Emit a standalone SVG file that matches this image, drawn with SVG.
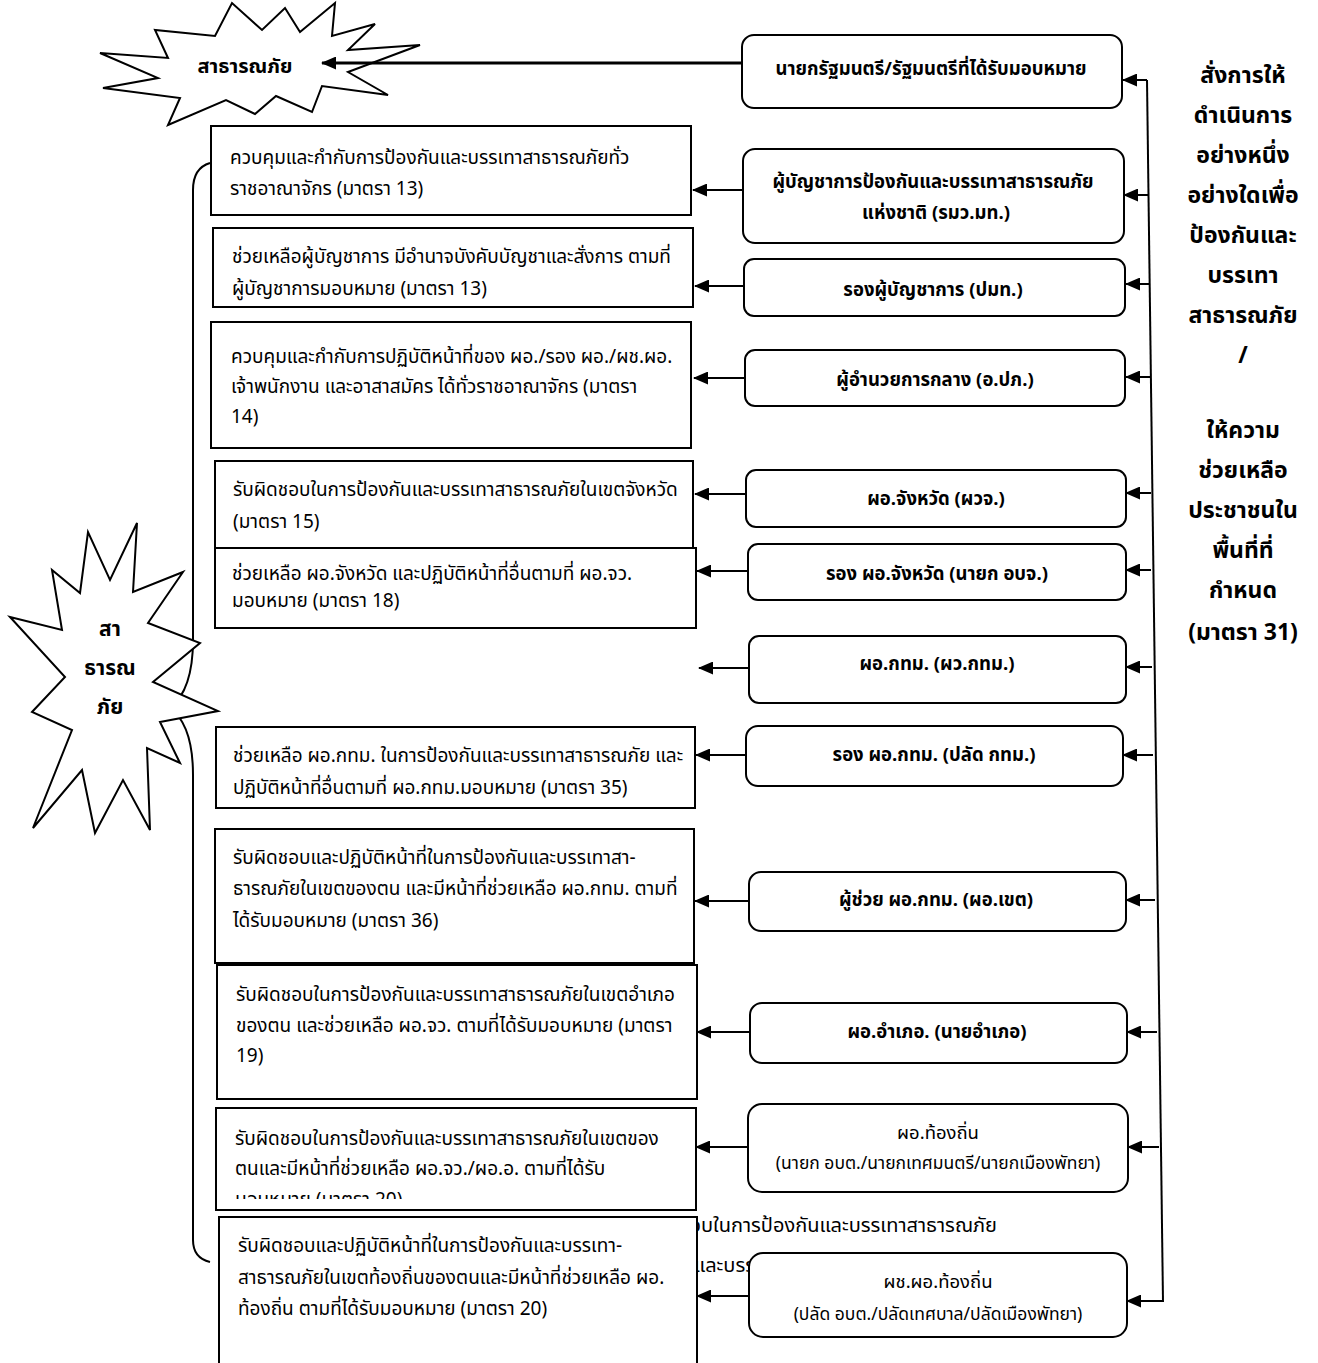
<svg xmlns="http://www.w3.org/2000/svg" width="1318" height="1363" viewBox="0 0 1318 1363">
<style>
  text { font-family: "Noto Sans Thai", "Tahoma", "Noto Sans", "DejaVu Sans", sans-serif; fill: #000; }
  .lt { font-size: 19px; }
  .rt { font-size: 18.5px; font-weight: bold; text-anchor: middle; }
  .rs { font-size: 17.5px; text-anchor: middle; }
  .col { font-size: 23px; font-weight: bold; text-anchor: middle; }
  .star { font-size: 20px; font-weight: bold; text-anchor: middle; }
  .lbox { fill: #fff; stroke: #000; stroke-width: 2; }
  .rbox { fill: #fff; stroke: #000; stroke-width: 2; }
  .star-shape { fill: #fff; stroke: #000; stroke-width: 2; stroke-linejoin: miter; }
  .conn { stroke: #000; stroke-width: 2; fill: none; }
</style>
<defs>
  <marker id="arr" markerUnits="userSpaceOnUse" markerWidth="15" markerHeight="13" refX="14" refY="6.5" orient="auto">
    <path d="M0,0 L15,6.5 L0,13 Z" fill="#000"/>
  </marker>
  <clipPath id="clipI"><rect x="200" y="1100" width="500" height="99"/></clipPath>
</defs>
<rect width="1318" height="1363" fill="#fff"/>

<!-- hidden overflow text (behind boxes) -->
<g id="overflow-text">
  <text x="997" y="1232" style="font-size:20px" text-anchor="end">รับผิดชอบในการป้องกันและบรรเทาสาธารณภัย</text>
  <text x="694" y="1272" style="font-size:20px">และบรรเทาสาธารณภัย</text>
</g>

<g id="brace">
  <path class="conn" d="M210,163 Q193,168 193,190 L193,640 Q193,690 170,708 Q193,725 193,775 L193,1240 Q193,1258 210,1262"/>
</g>

<g id="starburst-top">
  <polygon class="star-shape" points="100,53 168,58 155,30 215,36 232,3 262,30 285,8 300,32 335,3 332,36 375,24 348,50 420,45 348,72 388,95 322,86 312,112 276,96 255,114 226,100 168,125 180,98 103,88 158,78"/>
  <text class="star" x="245" y="73">สาธารณภัย</text>
</g>

<g id="starburst-left">
  <polygon class="star-shape" points="10,617 62,630 52,570 80,593 88,532 110,580 137,523 133,592 183,572 148,623 200,643 153,682 218,711 160,722 180,763 147,748 150,830 123,780 95,833 82,770 33,828 72,730 32,712 65,677"/>
  <text class="star" x="110" y="636" style="font-size:21px">สา</text>
  <text class="star" x="110" y="675" style="font-size:21px">ธารณ</text>
  <text class="star" x="110" y="714" style="font-size:21px">ภัย</text>
</g>

<g id="connectors">
  <line class="conn" x1="742" y1="63" x2="322" y2="63" style="stroke-width:3" marker-end="url(#arr)"/>
  <line class="conn" x1="1147" y1="80" x2="1163" y2="1302"/>
  <line class="conn" x1="1147" y1="80" x2="1123" y2="80" marker-end="url(#arr)"/>
  <line class="conn" x1="1148" y1="195" x2="1124" y2="195" marker-end="url(#arr)"/>
  <line class="conn" x1="1149" y1="284" x2="1126" y2="284" marker-end="url(#arr)"/>
  <line class="conn" x1="1150" y1="377" x2="1126" y2="377" marker-end="url(#arr)"/>
  <line class="conn" x1="1151" y1="493" x2="1126" y2="493" marker-end="url(#arr)"/>
  <line class="conn" x1="1151" y1="570" x2="1126" y2="570" marker-end="url(#arr)"/>
  <line class="conn" x1="1152" y1="667" x2="1126" y2="667" marker-end="url(#arr)"/>
  <line class="conn" x1="1153" y1="755" x2="1123" y2="755" marker-end="url(#arr)"/>
  <line class="conn" x1="1155" y1="900" x2="1126" y2="900" marker-end="url(#arr)"/>
  <line class="conn" x1="1157" y1="1032" x2="1127" y2="1032" marker-end="url(#arr)"/>
  <line class="conn" x1="1159" y1="1147" x2="1128" y2="1147" marker-end="url(#arr)"/>
  <line class="conn" x1="1163" y1="1301" x2="1127" y2="1301" marker-end="url(#arr)"/>

  <line class="conn" x1="745" y1="190" x2="693" y2="190" marker-end="url(#arr)"/>
  <line class="conn" x1="745" y1="286" x2="695" y2="286" marker-end="url(#arr)"/>
  <line class="conn" x1="746" y1="378" x2="694" y2="378" marker-end="url(#arr)"/>
  <line class="conn" x1="747" y1="494" x2="695" y2="494" marker-end="url(#arr)"/>
  <line class="conn" x1="748" y1="571" x2="697" y2="571" marker-end="url(#arr)"/>
  <line class="conn" x1="749" y1="668" x2="699" y2="668" marker-end="url(#arr)"/>
  <line class="conn" x1="746" y1="755" x2="696" y2="755" marker-end="url(#arr)"/>
  <line class="conn" x1="749" y1="901" x2="695" y2="901" marker-end="url(#arr)"/>
  <line class="conn" x1="750" y1="1032" x2="697" y2="1032" marker-end="url(#arr)"/>
  <line class="conn" x1="748" y1="1147" x2="696" y2="1147" marker-end="url(#arr)"/>
  <line class="conn" x1="750" y1="1296" x2="697" y2="1296" marker-end="url(#arr)"/>
</g>

<g id="lbox-A">
  <rect class="lbox" x="211" y="126" width="480" height="89"/>
  <text class="lt" x="230" y="164">ควบคุมและกำกับการป้องกันและบรรเทาสาธารณภัยทั่ว</text>
  <text class="lt" x="230" y="195">ราชอาณาจักร (มาตรา 13)</text>
</g>
<g id="lbox-B">
  <rect class="lbox" x="213" y="228" width="480" height="79"/>
  <text class="lt" x="232" y="263">ช่วยเหลือผู้บัญชาการ มีอำนาจบังคับบัญชาและสั่งการ ตามที่</text>
  <text class="lt" x="232" y="295">ผู้บัญชาการมอบหมาย (มาตรา 13)</text>
</g>
<g id="lbox-C">
  <rect class="lbox" x="211" y="322" width="480" height="126"/>
  <text class="lt" x="231" y="363">ควบคุมและกำกับการปฏิบัติหน้าที่ของ ผอ./รอง ผอ./ผช.ผอ.</text>
  <text class="lt" x="231" y="393">เจ้าพนักงาน และอาสาสมัคร ได้ทั่วราชอาณาจักร (มาตรา</text>
  <text class="lt" x="231" y="423">14)</text>
</g>
<g id="lbox-D">
  <rect class="lbox" x="215" y="461" width="478" height="87"/>
  <text class="lt" x="233" y="496">รับผิดชอบในการป้องกันและบรรเทาสาธารณภัยในเขตจังหวัด</text>
  <text class="lt" x="233" y="528">(มาตรา 15)</text>
</g>
<g id="lbox-E">
  <rect class="lbox" x="215" y="548" width="481" height="80"/>
  <text class="lt" x="232" y="580">ช่วยเหลือ ผอ.จังหวัด และปฏิบัติหน้าที่อื่นตามที่ ผอ.จว.</text>
  <text class="lt" x="232" y="607">มอบหมาย (มาตรา 18)</text>
</g>
<g id="lbox-F">
  <rect class="lbox" x="216" y="727" width="479" height="81"/>
  <text class="lt" x="233" y="762">ช่วยเหลือ ผอ.กทม. ในการป้องกันและบรรเทาสาธารณภัย และ</text>
  <text class="lt" x="233" y="794">ปฏิบัติหน้าที่อื่นตามที่ ผอ.กทม.มอบหมาย (มาตรา 35)</text>
</g>
<g id="lbox-G">
  <rect class="lbox" x="215" y="829" width="479" height="134"/>
  <text class="lt" x="233" y="864">รับผิดชอบและปฏิบัติหน้าที่ในการป้องกันและบรรเทาสา-</text>
  <text class="lt" x="233" y="895">ธารณภัยในเขตของตน และมีหน้าที่ช่วยเหลือ ผอ.กทม. ตามที่</text>
  <text class="lt" x="233" y="927">ได้รับมอบหมาย (มาตรา 36)</text>
</g>
<g id="lbox-H">
  <rect class="lbox" x="217" y="965" width="480" height="134"/>
  <text class="lt" x="236" y="1001">รับผิดชอบในการป้องกันและบรรเทาสาธารณภัยในเขตอำเภอ</text>
  <text class="lt" x="236" y="1032">ของตน และช่วยเหลือ ผอ.จว. ตามที่ได้รับมอบหมาย (มาตรา</text>
  <text class="lt" x="236" y="1062">19)</text>
</g>
<g id="lbox-I">
  <rect class="lbox" x="216" y="1108" width="480" height="102"/>
  <text class="lt" x="235" y="1145">รับผิดชอบในการป้องกันและบรรเทาสาธารณภัยในเขตของ</text>
  <text class="lt" x="235" y="1175">ตนและมีหน้าที่ช่วยเหลือ ผอ.จว./ผอ.อ. ตามที่ได้รับ</text>
  <text class="lt" x="235" y="1206" clip-path="url(#clipI)">มอบหมาย (มาตรา 20)</text>
</g>
<g id="lbox-J">
  <rect class="lbox" x="219" y="1217" width="478" height="150"/>
  <text class="lt" x="238" y="1252">รับผิดชอบและปฏิบัติหน้าที่ในการป้องกันและบรรเทา-</text>
  <text class="lt" x="238" y="1284">สาธารณภัยในเขตท้องถิ่นของตนและมีหน้าที่ช่วยเหลือ ผอ.</text>
  <text class="lt" x="238" y="1315">ท้องถิ่น ตามที่ได้รับมอบหมาย (มาตรา 20)</text>
</g>

<g id="rbox-1">
  <rect class="rbox" x="742" y="35" width="380" height="73" rx="12"/>
  <text class="rt" x="931" y="75">นายกรัฐมนตรี/รัฐมนตรีที่ได้รับมอบหมาย</text>
</g>
<g id="rbox-2">
  <rect class="rbox" x="743" y="149" width="381" height="94" rx="12"/>
  <text class="rt" x="933" y="188">ผู้บัญชาการป้องกันและบรรเทาสาธารณภัย</text>
  <text class="rt" x="936" y="219">แห่งชาติ (รมว.มท.)</text>
</g>
<g id="rbox-3">
  <rect class="rbox" x="744" y="259" width="381" height="57" rx="10"/>
  <text class="rt" x="933" y="296">รองผู้บัญชาการ (ปมท.)</text>
</g>
<g id="rbox-4">
  <rect class="rbox" x="745" y="350" width="380" height="56" rx="10"/>
  <text class="rt" x="935" y="386">ผู้อำนวยการกลาง (อ.ปภ.)</text>
</g>
<g id="rbox-5">
  <rect class="rbox" x="746" y="470" width="380" height="57" rx="10"/>
  <text class="rt" x="936" y="505">ผอ.จังหวัด (ผวจ.)</text>
</g>
<g id="rbox-6">
  <rect class="rbox" x="748" y="544" width="378" height="56" rx="10"/>
  <text class="rt" x="937" y="580">รอง ผอ.จังหวัด (นายก อบจ.)</text>
</g>
<g id="rbox-7">
  <rect class="rbox" x="749" y="636" width="377" height="67" rx="10"/>
  <text class="rt" x="937" y="670">ผอ.กทม. (ผว.กทม.)</text>
</g>
<g id="rbox-8">
  <rect class="rbox" x="746" y="726" width="377" height="60" rx="12"/>
  <text class="rt" x="934" y="761">รอง ผอ.กทม. (ปลัด กทม.)</text>
</g>
<g id="rbox-9">
  <rect class="rbox" x="749" y="872" width="377" height="59" rx="12"/>
  <text class="rt" x="936" y="906">ผู้ช่วย ผอ.กทม. (ผอ.เขต)</text>
</g>
<g id="rbox-10">
  <rect class="rbox" x="750" y="1003" width="377" height="60" rx="12"/>
  <text class="rt" x="937" y="1038">ผอ.อำเภอ. (นายอำเภอ)</text>
</g>
<g id="rbox-11">
  <rect class="rbox" x="748" y="1104" width="380" height="88" rx="14"/>
  <text class="rs" x="938" y="1139" style="font-size:18.5px">ผอ.ท้องถิ่น</text>
  <text class="rs" x="938" y="1169">(นายก อบต./นายกเทศมนตรี/นายกเมืองพัทยา)</text>
</g>
<g id="rbox-12">
  <rect class="rbox" x="749" y="1253" width="378" height="84" rx="14"/>
  <text class="rs" x="938" y="1288" style="font-size:18.5px">ผช.ผอ.ท้องถิ่น</text>
  <text class="rs" x="938" y="1320">(ปลัด อบต./ปลัดเทศบาล/ปลัดเมืองพัทยา)</text>
</g>

<g id="side-label">
  <text class="col" x="1243" y="83">สั่งการให้</text>
  <text class="col" x="1243" y="123">ดำเนินการ</text>
  <text class="col" x="1243" y="163">อย่างหนึ่ง</text>
  <text class="col" x="1243" y="203">อย่างใดเพื่อ</text>
  <text class="col" x="1243" y="243">ป้องกันและ</text>
  <text class="col" x="1243" y="283">บรรเทา</text>
  <text class="col" x="1243" y="323">สาธารณภัย</text>
  <text class="col" x="1243" y="363">/</text>
  <text class="col" x="1243" y="438">ให้ความ</text>
  <text class="col" x="1243" y="478">ช่วยเหลือ</text>
  <text class="col" x="1243" y="518">ประชาชนใน</text>
  <text class="col" x="1243" y="558">พื้นที่ที่</text>
  <text class="col" x="1243" y="598">กำหนด</text>
  <text class="col" x="1243" y="640">(มาตรา 31)</text>
</g>
</svg>
